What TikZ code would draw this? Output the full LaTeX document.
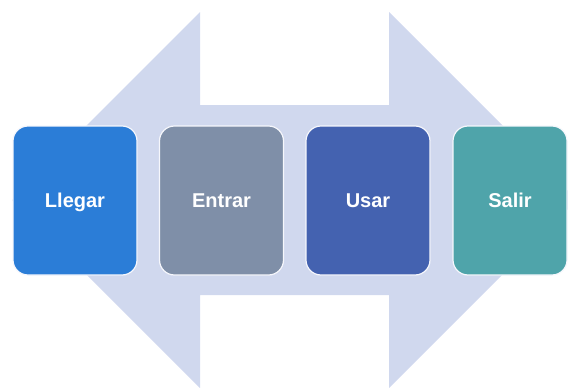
\documentclass[tikz,border=0pt]{standalone}
\usepackage{fontspec}
\setmainfont{Liberation Sans}
\usepackage{tikz}

\definecolor{arrowfill}{HTML}{D0D8EE}
\definecolor{llegarblue}{HTML}{2B7DD7}
\definecolor{entrargray}{HTML}{7F8FA8}
\definecolor{usarblue}{HTML}{4462B0}
\definecolor{salirteal}{HTML}{4FA4AA}

\begin{document}
\begin{tikzpicture}[x=1pt,y=-1pt,
  stagebox/.style={rounded corners=15pt,draw=white!80!arrowfill,line width=1.2pt,
    minimum height=149pt,inner sep=0pt,text=white,text height=14.5pt,text depth=0pt,
    font=\fontsize{20}{24}\selectfont\bfseries}]
\useasboundingbox (0,0) rectangle (568,388);
\clip (0,0) rectangle (568,388);

% double arrow behind the stages
\fill[arrowfill] (12,200) -- (200,12) -- (200,105) -- (389,105) -- (389,12)
  -- (577,200) -- (389,388) -- (389,295) -- (200,295) -- (200,388) -- cycle;

\node[stagebox,fill=llegarblue,minimum width=124pt] (llegar) at (75,200.5) {Llegar};
\node[stagebox,fill=entrargray,minimum width=124pt] (entrar) at (221.5,200.5) {Entrar};
\node[stagebox,fill=usarblue,minimum width=124pt]   (usar)   at (368,200.5) {Usar};
\node[stagebox,fill=salirteal,minimum width=114pt]  (salir)  at (510,200.5) {Salir};
\end{tikzpicture}
\end{document}
